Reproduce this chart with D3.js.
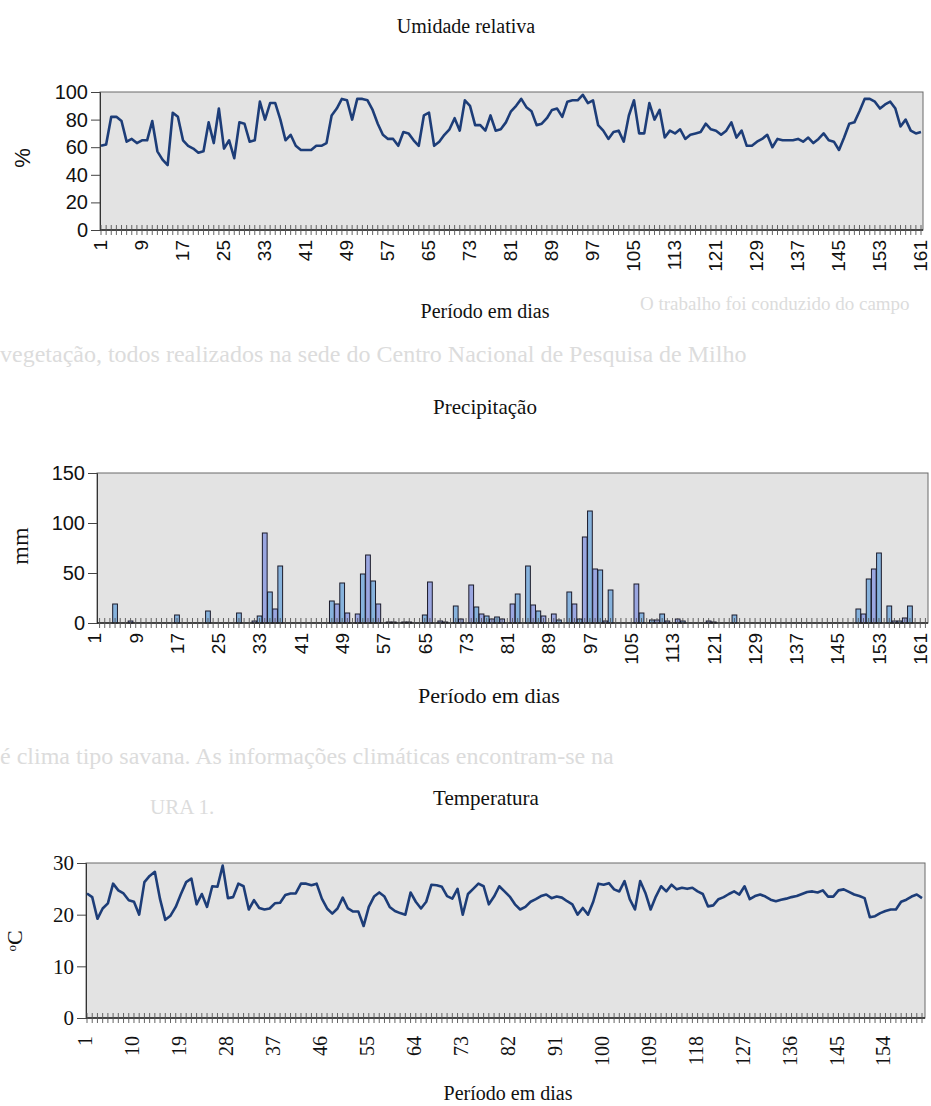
<!DOCTYPE html>
<html>
<head>
<meta charset="utf-8">
<script src="https://cdn.jsdelivr.net/npm/d3@7"></script>
<style>
body { margin: 0; background: #fff; }
</style>
</head>
<body>
<div id="page"></div>
<script>
// dias do periodo
var days = d3.range(1, 162);

// Umidade relativa (%)
var umidade = [61,62,82,82,79,64,66,63,65,65,
    79,57,51,47,85,82,65,61,59,56,
    57,78,63,88,59,65,52,78,77,64,
    65,93,80,92,92,80,65,69,61,58,
    58,58,61,61,63,83,88,95,94,80,
    95,95,94,87,77,69,66,66,61,71,
    70,65,61,83,85,61,64,69,73,81,
    72,94,90,76,76,72,83,72,73,78,
    86,90,95,89,86,76,77,81,87,88,
    82,93,94,94,98,92,94,76,72,66,
    71,72,64,83,94,70,70,92,80,87,
    67,72,70,73,66,69,70,71,77,73,
    72,69,72,78,67,72,61,61,64,66,
    69,60,66,65,65,65,66,64,67,63,
    66,70,65,64,58,67,77,78,86,95,
    95,93,88,91,93,88,75,80,72,70,
    71];

// Precipitacao (mm)
var chuva = [0,0,0,19,0,0,2,0,0,0,
    0,0,0,0,0,8,0,0,0,0,
    0,12,0,0,0,0,0,10,0,0,
    2,7,90,31,14,57,0,0,0,0,
    0,0,0,0,0,22,19,40,10,0,
    9,49,68,42,19,0,1,1,0,1,
    1,0,0,8,41,0,2,1,0,17,
    4,0,38,16,9,7,4,6,4,0,
    19,29,0,57,18,12,7,0,9,3,
    0,31,19,4,86,112,54,53,2,33,
    0,0,0,0,39,10,0,3,3,9,
    2,0,4,2,0,0,0,0,2,1,
    0,0,0,8,0,0,0,0,0,0,
    0,0,0,0,0,0,0,0,0,0,
    0,0,0,0,0,0,0,14,9,44,
    54,70,0,17,2,2,5,17,0,0,
    0];

// Temperatura (oC)
var temperatura = [24.1,23.4,19.2,21.2,22.2,26,24.7,24.1,22.8,22.5,
    20,26.3,27.5,28.3,23,19,19.8,21.5,24,26.3,
    27,22,24,21.5,25.5,25.4,29.5,23.2,23.4,26,
    25.5,21,22.8,21.3,21,21.2,22.2,22.3,23.8,24.1,
    24.1,26,26,25.7,26,23.1,21.2,20.2,21.2,23.3,
    21.2,20.6,20.6,17.8,21.5,23.5,24.3,23.5,21.5,20.7,
    20.3,20,24.3,22.5,21.2,22.5,25.8,25.7,25.4,23.6,
    23.1,25,20,24,25,26,25.5,22,23.5,25.5,
    24.5,23.5,22,21,21.5,22.5,23,23.6,23.9,23.2,
    23.5,23.3,22.6,22,20,21.3,20,22.5,26,25.8,
    26.1,24.9,24.5,26.5,23,21,26.5,24.2,21,23.5,
    25.5,24.5,25.8,24.9,25.2,25,25.2,24.5,24,21.6,
    21.8,23,23.4,24,24.5,23.9,25.5,23,23.6,23.9,
    23.5,22.9,22.6,22.9,23.1,23.4,23.6,24,24.4,24.5,
    24.3,24.7,23.5,23.5,24.7,24.9,24.4,23.9,23.6,23.2,
    19.5,19.7,20.3,20.7,21,21,22.5,22.9,23.5,23.9,
    23.2];

// rotulos dos eixos
var rotulosDias8 = [1,9,17,25,33,41,49,57,65,73,81,89,97,105,113,121,129,137,145,153,161];
var rotulosDias9 = [1,10,19,28,37,46,55,64,73,82,91,100,109,118,127,136,145,154];
var ticksUmidade = [0,20,40,60,80,100];
var ticksChuva = [0,50,100,150];
var ticksTemp = [0,10,20,30];

var svgWidth = 931;
var svgHeight = 1106;
var serif = "'Liberation Serif', 'Times New Roman', serif";
var sans = "'Liberation Sans', Arial, sans-serif";
var plotFill = "#e3e3e3";
var lineColor = "#1d3d78";

var svg = d3.select("#page")
    .append("svg")
    .attr("width", svgWidth)
    .attr("height", svgHeight)
    .style("display", "block");

svg.append("rect")
    .attr("width", svgWidth)
    .attr("height", svgHeight)
    .attr("fill", "#fff");

// texto do verso da pagina (aparece fraco no scan)
var ghost = svg.append("g")
    .attr("font-family", serif)
    .attr("fill", "#dcdcdc");
ghost.append("text").attr("x", 640).attr("y", 310).attr("font-size", "19px")
    .text("O trabalho foi conduzido do campo");
ghost.append("text").attr("x", 0).attr("y", 362).attr("font-size", "24px")
    .text("vegetação, todos realizados na sede do Centro Nacional de Pesquisa de Milho");
ghost.append("text").attr("x", 0).attr("y", 764).attr("font-size", "24px")
    .text("é clima tipo savana. As informações climáticas encontram-se na");
ghost.append("text").attr("x", 150).attr("y", 814).attr("font-size", "21px")
    .text("URA 1.");

// moldura + eixo y
function drawAxes(g, y, x0, x1, y0, y1, opts) {
    g.append("rect")
        .attr("x", x0)
        .attr("y", y1)
        .attr("width", x1 - x0)
        .attr("height", y0 - y1)
        .attr("fill", plotFill)
        .attr("stroke", "#6a6a6a")
        .attr("stroke-width", 1);

    var yAxis = g.append("g")
        .attr("transform", "translate(" + x0 + ",0)")
        .call(d3.axisLeft(y).tickValues(opts.yTicks).tickSize(9).tickPadding(3));
    yAxis.select(".domain").attr("stroke", "#333");
    yAxis.selectAll(".tick line").attr("stroke", "#444");
    yAxis.selectAll("text")
        .attr("font-family", opts.font)
        .attr("font-size", opts.yFontSize)
        .attr("fill", "#111");
}

function drawDayTicks(g, tickX, x0, x1, y0) {
    g.append("line")
        .attr("x1", x0).attr("x2", x1)
        .attr("y1", y0).attr("y2", y0)
        .attr("stroke", "#222")
        .attr("stroke-width", 1.5);
    g.selectAll("line.dia")
        .data(days)
        .enter()
        .append("line")
        .attr("class", "dia")
        .attr("x1", function (d) { return tickX(d); })
        .attr("x2", function (d) { return tickX(d); })
        .attr("y1", y0 - 5)
        .attr("y2", y0 + 5)
        .attr("stroke", "#555")
        .attr("stroke-width", 0.9);
}

function drawDayLabels(g, labelX, labels, y0, font, size) {
    g.selectAll("text.rotulo")
        .data(labels)
        .enter()
        .append("text")
        .attr("class", "rotulo")
        .attr("transform", function (d) {
            return "translate(" + labelX(d) + "," + y0 + ") rotate(-90)";
        })
        .attr("dy", "0.35em")
        .attr("text-anchor", "end")
        .attr("font-family", font)
        .attr("font-size", size)
        .attr("fill", "#111")
        .text(function (d) { return d; });
}

function title(txt, x, y, size) {
    svg.append("text")
        .attr("x", x)
        .attr("y", y)
        .attr("text-anchor", "middle")
        .attr("font-family", serif)
        .attr("font-size", size)
        .attr("fill", "#111")
        .text(txt);
}

//Umidade relativa
(function () {
    var x0 = 100, x1 = 923, y0 = 230, y1 = 92;
    var x = d3.scaleLinear().domain([1, 161]).range([x0 + 1, x1 - 2]);
    var y = d3.scaleLinear().domain([0, 100]).range([y0, y1]);
    var g = svg.append("g");

    title("Umidade relativa", 466, 33, "20px");
    drawAxes(g, y, x0, x1, y0, y1, { yTicks: ticksUmidade, font: sans, yFontSize: "20px" });

    var line = d3.line()
        .x(function (d, i) { return x(days[i]); })
        .y(function (d) { return y(d); });

    g.append("path")
        .datum(umidade)
        .attr("d", line)
        .attr("fill", "none")
        .attr("stroke", lineColor)
        .attr("stroke-width", 2.6)
        .attr("stroke-linejoin", "round");

    drawDayTicks(g, x, x0, x1, y0);
    drawDayLabels(g, function (d) { return x(d) - 1; }, rotulosDias8, y0 + 10, sans, "19px");

    g.append("text")
        .attr("transform", "translate(22,158) rotate(-90)")
        .attr("dy", "0.35em")
        .attr("text-anchor", "middle")
        .attr("font-family", sans)
        .attr("font-size", "22px")
        .attr("fill", "#111")
        .text("%");

    title("Período em dias", 485, 318, "20px");
})();

//Precipitacao
(function () {
    var x0 = 97, x1 = 928, y0 = 623, y1 = 473;
    var x = d3.scaleBand().domain(days).range([x0, x1]).paddingInner(0.08).paddingOuter(0.04);
    var y = d3.scaleLinear().domain([0, 150]).range([y0, y1]);
    var center = function (d) { return x(d) + x.bandwidth() / 2; };
    var g = svg.append("g");

    title("Precipitação", 485, 414, "21px");
    drawAxes(g, y, x0, x1, y0, y1, { yTicks: ticksChuva, font: sans, yFontSize: "20px" });

    g.selectAll("rect.barra")
        .data(chuva)
        .enter()
        .append("rect")
        .attr("class", "barra")
        .attr("x", function (d, i) { return x(days[i]); })
        .attr("width", x.bandwidth())
        .attr("y", function (d) { return y(d); })
        .attr("height", function (d) { return y0 - y(d); })
        .attr("fill", function (d, i) { return i % 2 ? "#86b2dc" : "#9aa6e0"; })
        .attr("stroke", "#1b1b2b")
        .attr("stroke-width", function (d) { return d > 0 ? 1 : 0; });

    drawDayTicks(g, center, x0, x1, y0);
    drawDayLabels(g, function (d) { return center(d) - 5; }, rotulosDias8, y0 + 10, sans, "19px");

    g.append("text")
        .attr("transform", "translate(20,546) rotate(-90)")
        .attr("dy", "0.35em")
        .attr("text-anchor", "middle")
        .attr("font-family", serif)
        .attr("font-size", "24px")
        .attr("fill", "#111")
        .text("mm");

    title("Período em dias", 489, 703, "22px");
})();

//Temperatura
(function () {
    var x0 = 86, x1 = 925, y0 = 1018, y1 = 863;
    var x = d3.scaleLinear().domain([1, 161]).range([x0 + 1, x1 - 3]);
    var y = d3.scaleLinear().domain([0, 30]).range([y0, y1]);
    var g = svg.append("g");

    title("Temperatura", 486, 805, "21px");
    drawAxes(g, y, x0, x1, y0, y1, { yTicks: ticksTemp, font: serif, yFontSize: "21px" });

    var line = d3.line()
        .x(function (d, i) { return x(days[i]); })
        .y(function (d) { return y(d); });

    g.append("path")
        .datum(temperatura)
        .attr("d", line)
        .attr("fill", "none")
        .attr("stroke", lineColor)
        .attr("stroke-width", 2.6)
        .attr("stroke-linejoin", "round");

    drawDayTicks(g, x, x0, x1, y0);
    drawDayLabels(g, function (d) { return x(d) - 2; }, rotulosDias9, y0 + 18, serif, "20px");

    var yl = g.append("text")
        .attr("transform", "translate(19,941) rotate(-90)")
        .attr("dy", "0.35em")
        .attr("text-anchor", "middle")
        .attr("font-family", serif)
        .attr("fill", "#111");
    yl.append("tspan").attr("font-size", "13px").attr("dy", "-0.2em").text("o");
    yl.append("tspan").attr("font-size", "22px").attr("dy", "0.25em").text("C");

    title("Período em dias", 508, 1100, "20px");
})();
</script>
</body>
</html>
